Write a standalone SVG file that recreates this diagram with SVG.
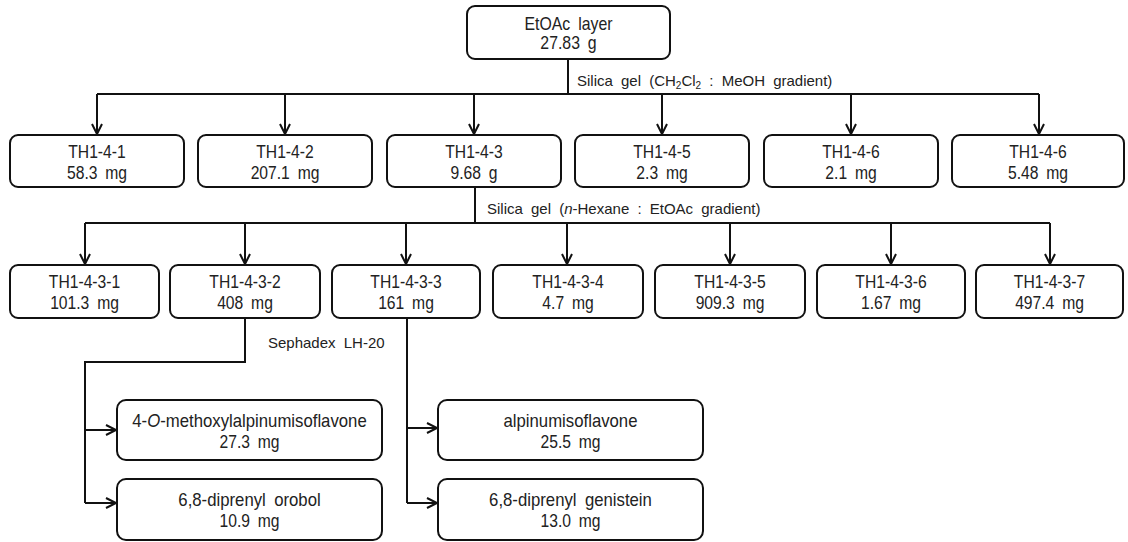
<svg xmlns="http://www.w3.org/2000/svg" width="1128" height="542" viewBox="0 0 1128 542">
<style>
.box{fill:#fff;stroke:#111;stroke-width:2}
.t{font-family:"Liberation Sans",Arial,sans-serif;font-size:18px;fill:#222;text-anchor:middle;word-spacing:4px}
.lbl{font-family:"Liberation Sans",Arial,sans-serif;font-size:15px;fill:#222;word-spacing:4px}
.c{fill:none;stroke:#111;stroke-width:2}
</style>
<defs>
<marker id="ah" viewBox="0 0 10 10" refX="10" refY="5" markerWidth="10" markerHeight="10" markerUnits="userSpaceOnUse" orient="auto" overflow="visible">
<path d="M0,0 L10,5 L0,10" fill="none" stroke="#111" stroke-width="2"/>
</marker>
</defs>
<rect width="1128" height="542" fill="#fff"/>

<g id="connectors">
<path class="c" d="M568,59 V94 M97,94 H1039"/>
<path class="c" marker-end="url(#ah)" d="M97,94 V134"/>
<path class="c" marker-end="url(#ah)" d="M285,94 V134"/>
<path class="c" marker-end="url(#ah)" d="M474,94 V134"/>
<path class="c" marker-end="url(#ah)" d="M662,94 V134"/>
<path class="c" marker-end="url(#ah)" d="M851,94 V134"/>
<path class="c" marker-end="url(#ah)" d="M1039,94 V134"/>
<path class="c" d="M475,187 V223 M85,223 H1050"/>
<path class="c" marker-end="url(#ah)" d="M85,223 V264"/>
<path class="c" marker-end="url(#ah)" d="M245,223 V264"/>
<path class="c" marker-end="url(#ah)" d="M406,223 V264"/>
<path class="c" marker-end="url(#ah)" d="M567,223 V264"/>
<path class="c" marker-end="url(#ah)" d="M730,223 V264"/>
<path class="c" marker-end="url(#ah)" d="M891,223 V264"/>
<path class="c" marker-end="url(#ah)" d="M1050,223 V264"/>
<path class="c" d="M245,318 V362 H85 V503"/>
<path class="c" marker-end="url(#ah)" d="M85,430 H116"/>
<path class="c" marker-end="url(#ah)" d="M85,503 H116"/>
<path class="c" d="M407,318 V503"/>
<path class="c" marker-end="url(#ah)" d="M407,428 H437"/>
<path class="c" marker-end="url(#ah)" d="M407,503 H437"/>
</g>

<g id="labels">
<text class="lbl" x="577" y="86">Silica gel (CH<tspan font-size="10" dy="3">2</tspan><tspan dy="-3">Cl</tspan><tspan font-size="10" dy="3">2</tspan><tspan dy="-3"> : MeOH gradient)</tspan></text>
<text class="lbl" x="487" y="214">Silica gel (<tspan font-style="italic">n</tspan>-Hexane : EtOAc gradient)</text>
<text class="lbl" x="268" y="348">Sephadex LH-20</text>
</g>

<g id="n0"><rect class="box" x="467" y="6" width="203" height="53" rx="8"/><text class="t" transform="translate(568.5 30) scale(0.88 1)">EtOAc layer</text><text class="t" transform="translate(568.5 49) scale(0.88 1)">27.83 g</text></g>

<g id="n1"><rect class="box" x="10" y="135" width="174" height="52" rx="8"/><text class="t" transform="translate(97 158) scale(0.87 1)">TH1-4-1</text><text class="t" transform="translate(97 179) scale(0.87 1)">58.3 mg</text></g>
<g id="n2"><rect class="box" x="198" y="135" width="174" height="52" rx="8"/><text class="t" transform="translate(285 158) scale(0.87 1)">TH1-4-2</text><text class="t" transform="translate(285 179) scale(0.87 1)">207.1 mg</text></g>
<g id="n3"><rect class="box" x="387" y="135" width="174" height="52" rx="8"/><text class="t" transform="translate(474 158) scale(0.87 1)">TH1-4-3</text><text class="t" transform="translate(474 179) scale(0.87 1)">9.68 g</text></g>
<g id="n4"><rect class="box" x="575" y="135" width="174" height="52" rx="8"/><text class="t" transform="translate(662 158) scale(0.87 1)">TH1-4-5</text><text class="t" transform="translate(662 179) scale(0.87 1)">2.3 mg</text></g>
<g id="n5"><rect class="box" x="764" y="135" width="174" height="52" rx="8"/><text class="t" transform="translate(851 158) scale(0.87 1)">TH1-4-6</text><text class="t" transform="translate(851 179) scale(0.87 1)">2.1 mg</text></g>
<g id="n6"><rect class="box" x="952" y="135" width="172" height="52" rx="8"/><text class="t" transform="translate(1038 158) scale(0.87 1)">TH1-4-6</text><text class="t" transform="translate(1038 179) scale(0.87 1)">5.48 mg</text></g>

<g id="m1"><rect class="box" x="10" y="265" width="149" height="53" rx="8"/><text class="t" transform="translate(84.5 288) scale(0.87 1)">TH1-4-3-1</text><text class="t" transform="translate(84.5 309) scale(0.87 1)">101.3 mg</text></g>
<g id="m2"><rect class="box" x="170" y="265" width="150" height="53" rx="8"/><text class="t" transform="translate(245 288) scale(0.87 1)">TH1-4-3-2</text><text class="t" transform="translate(245 309) scale(0.87 1)">408 mg</text></g>
<g id="m3"><rect class="box" x="332" y="265" width="148" height="53" rx="8"/><text class="t" transform="translate(406 288) scale(0.87 1)">TH1-4-3-3</text><text class="t" transform="translate(406 309) scale(0.87 1)">161 mg</text></g>
<g id="m4"><rect class="box" x="493" y="265" width="150" height="53" rx="8"/><text class="t" transform="translate(568 288) scale(0.87 1)">TH1-4-3-4</text><text class="t" transform="translate(568 309) scale(0.87 1)">4.7 mg</text></g>
<g id="m5"><rect class="box" x="655" y="265" width="150" height="53" rx="8"/><text class="t" transform="translate(730 288) scale(0.87 1)">TH1-4-3-5</text><text class="t" transform="translate(730 309) scale(0.87 1)">909.3 mg</text></g>
<g id="m6"><rect class="box" x="817" y="265" width="148" height="53" rx="8"/><text class="t" transform="translate(891 288) scale(0.87 1)">TH1-4-3-6</text><text class="t" transform="translate(891 309) scale(0.87 1)">1.67 mg</text></g>
<g id="m7"><rect class="box" x="976" y="265" width="147" height="53" rx="8"/><text class="t" transform="translate(1049.5 288) scale(0.87 1)">TH1-4-3-7</text><text class="t" transform="translate(1049.5 309) scale(0.87 1)">497.4 mg</text></g>

<g id="p1"><rect class="box" x="117" y="400" width="265" height="60" rx="9"/><text class="t" transform="translate(249.5 427) scale(0.93 1)">4-<tspan font-style="italic">O</tspan>-methoxylalpinumisoflavone</text><text class="t" transform="translate(249.5 448) scale(0.87 1)">27.3 mg</text></g>
<g id="p2"><rect class="box" x="117" y="479" width="265" height="61" rx="9"/><text class="t" transform="translate(249.5 506) scale(0.93 1)">6,8-diprenyl orobol</text><text class="t" transform="translate(249.5 527) scale(0.87 1)">10.9 mg</text></g>
<g id="p3"><rect class="box" x="438" y="400" width="265" height="60" rx="9"/><text class="t" transform="translate(570.5 427) scale(0.93 1)">alpinumisoflavone</text><text class="t" transform="translate(570.5 448) scale(0.87 1)">25.5 mg</text></g>
<g id="p4"><rect class="box" x="438" y="479" width="265" height="61" rx="9"/><text class="t" transform="translate(570.5 506) scale(0.93 1)">6,8-diprenyl genistein</text><text class="t" transform="translate(570.5 527) scale(0.87 1)">13.0 mg</text></g>
</svg>
